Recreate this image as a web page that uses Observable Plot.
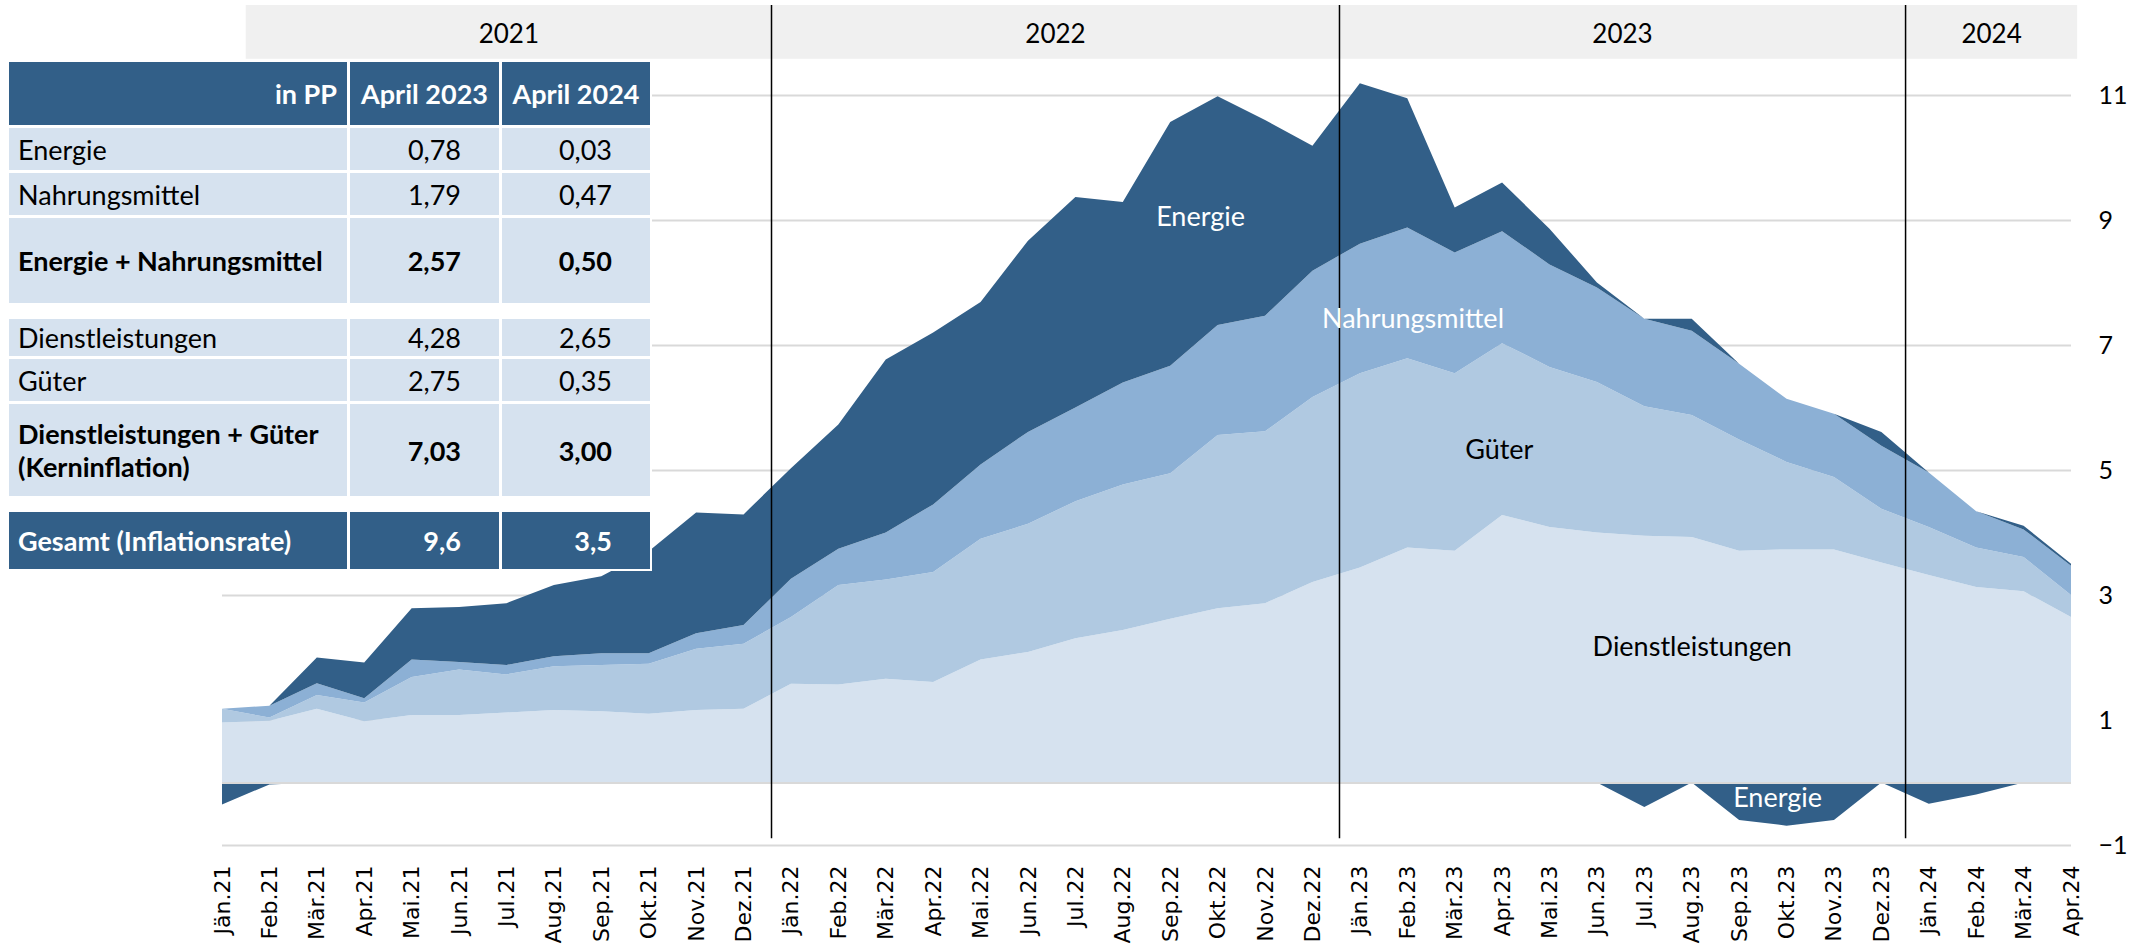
<!DOCTYPE html>
<html><head><meta charset="utf-8">
<script src="https://cdn.jsdelivr.net/npm/d3@7"></script>
<script src="https://cdn.jsdelivr.net/npm/@observablehq/plot@0.6"></script>
<style>
html,body{margin:0;padding:0;background:#fff;}
#wrap{position:relative;width:2136px;height:944px;overflow:hidden;}
#wrap svg{position:absolute;left:0;top:0;}
.cell{position:absolute;display:flex;align-items:center;box-sizing:border-box;font-family:Lato,"Open Sans",sans-serif;font-size:27px;color:#000;line-height:33px;white-space:pre-line;background:#d6e2ef;}
.dark{background:#325f88;color:#fff;font-weight:700;}
.bold{font-weight:700;}
</style></head><body><div id="wrap"></div>
<script>
// ---- data ----
const months = ["Jän.21","Feb.21","Mär.21","Apr.21","Mai.21","Jun.21","Jul.21","Aug.21","Sep.21","Okt.21","Nov.21","Dez.21",
  "Jän.22","Feb.22","Mär.22","Apr.22","Mai.22","Jun.22","Jul.22","Aug.22","Sep.22","Okt.22","Nov.22","Dez.22",
  "Jän.23","Feb.23","Mär.23","Apr.23","Mai.23","Jun.23","Jul.23","Aug.23","Sep.23","Okt.23","Nov.23","Dez.23",
  "Jän.24","Feb.24","Mär.24","Apr.24"];
const dienstleistungen = [0.96,0.99,1.18,0.98,1.08,1.08,1.12,1.16,1.14,1.10,1.16,1.18,
  1.58,1.57,1.66,1.61,1.97,2.09,2.31,2.44,2.62,2.79,2.87,3.21,
  3.44,3.76,3.71,4.28,4.09,4.00,3.95,3.93,3.71,3.73,3.73,3.52,
  3.32,3.13,3.06,2.65];
const gueter = [0.22,0.05,0.22,0.30,0.61,0.73,0.61,0.70,0.74,0.80,0.98,1.04,
  1.07,1.59,1.59,1.76,1.93,2.05,2.19,2.33,2.33,2.77,2.75,2.96,
  3.11,3.03,2.84,2.75,2.56,2.41,2.07,1.95,1.78,1.40,1.16,0.86,
  0.77,0.63,0.55,0.35];
const nahrungsmittel = [0.00,0.19,0.19,0.07,0.28,0.12,0.15,0.16,0.19,0.17,0.25,0.30,
  0.61,0.58,0.75,1.08,1.19,1.47,1.50,1.63,1.72,1.76,1.85,2.02,
  2.07,2.09,1.93,1.79,1.64,1.51,1.40,1.35,1.21,1.01,1.01,1.01,
  0.87,0.58,0.44,0.47];
const energie = [-0.35,-0.03,0.41,0.57,0.82,0.88,0.99,1.14,1.23,1.63,1.93,1.77,
  1.77,1.99,2.77,2.75,2.60,3.06,3.37,2.89,3.90,3.66,3.13,2.00,
  2.57,2.07,0.72,0.78,0.57,0.08,-0.39,0.19,-0.60,-0.69,-0.60,0.22,
  -0.34,-0.19,0.06,0.03];
const yTicks = [-1,1,3,5,7,9,11];
const years = ["2021","2022","2023","2024"];
const yearStart = [0.5,11.58,23.56,35.5];
const yearEnd = [11.58,23.56,35.5,39.13];
const yearDividers = [11.58,23.56,35.5];
const seriesNames = ["Dienstleistungen","Güter","Nahrungsmittel","Energie"];
const seriesColors = ["#d6e2ef","#b0c9e1","#8cb0d5","#325f88"];
const labelText = ["Energie","Nahrungsmittel","Güter","Dienstleistungen","Energie"];
const labelX = [20.63,25.11,26.93,31.0,32.8];
const labelY = [9.05,7.42,5.32,2.17,-0.24];
const labelFill = ["#fff","#fff","#000","#000","#fff"];
const tableHeader = ["in PP","April 2023","April 2024"];
const tableLabels = ["Energie","Nahrungsmittel","Energie + Nahrungsmittel","Dienstleistungen","Güter","Dienstleistungen + Güter\n(Kerninflation)","Gesamt (Inflationsrate)"];
const tableApr23 = ["0,78","1,79","2,57","4,28","2,75","7,03","9,6"];
const tableApr24 = ["0,03","0,47","0,50","2,65","0,35","3,00","3,5"];
const tableBold = [false,false,true,false,false,true,true];

// ---- derived tables ----
const stacked = [];
months.forEach((m,i)=>{
  stacked.push({i, k:"Dienstleistungen", v:dienstleistungen[i]});
  stacked.push({i, k:"Güter", v:gueter[i]});
  stacked.push({i, k:"Nahrungsmittel", v:nahrungsmittel[i]});
  stacked.push({i, k:"Energie", v:Math.max(0, energie[i])});
});
const energyNeg = months.map((m,i)=>({i, v:Math.min(0, energie[i])}));
const yearBands = years.map((y,j)=>({y, x1:yearStart[j], x2:yearEnd[j], xm:(yearStart[j]+yearEnd[j])/2}));
const areaLabels = labelText.map((t,j)=>({t, x:labelX[j], y:labelY[j], f:labelFill[j]}));

const FONT = "Lato, 'Open Sans', sans-serif";
const chart = Plot.plot({
  width:2136, height:944,
  marginLeft:222, marginRight:65, marginTop:95, marginBottom:99,
  x:{type:"linear", domain:[0,39]},
  y:{domain:[-1,11]},
  color:{domain:seriesNames, range:seriesColors},
  style:{fontFamily:FONT, fontSize:"25px", background:"#fff", color:"#000"},
  marks:[
    Plot.rect(yearBands, {x1:"x1", x2:"x2", y1:11.58, y2:12.44, fill:"#f0f0f0"}),
    Plot.gridY(yTicks, {stroke:"#d9d9d9", strokeOpacity:1, strokeWidth:2}),
    Plot.areaY(stacked, {x:"i", y:"v", fill:"k", order:seriesNames}),
    Plot.areaY(energyNeg, {x:"i", y1:0, y2:"v", fill:seriesColors[3]}),
    Plot.ruleY([0], {stroke:"#d9d9d9", strokeWidth:2}),
    Plot.ruleX(yearDividers, {y1:-0.89, y2:12.44, stroke:"#000", strokeWidth:1.5}),
    Plot.text(yearBands, {x:"xm", y:11.98, text:"y", fontSize:26, fontFamily:FONT, fill:"#000"}),
    Plot.text(areaLabels, {x:"x", y:"y", text:"t", fill:"f", fontSize:27, fontFamily:FONT}),
    Plot.axisX({ticks:d3.range(40), tickFormat:i=>months[i], tickRotate:-90, tickSize:0, tickPadding:20,
      fontSize:22, fontFamily:"DejaVu Sans", label:null, color:"#000"}),
    Plot.axisY({anchor:"right", ticks:yTicks, tickSize:0, tickPadding:27, fontSize:25, fontFamily:FONT, label:null, color:"#000"})
  ]
});
const wrap = document.getElementById("wrap");
wrap.appendChild(chart);

// ---- table overlay ----
const colLeft = [9,350,502], colWidth = [338,149,148];
const rowTop = [62,128,173,218,319,359,404,512], rowHeight = [63,42,42,85,37,42,92,57];
function cell(r, c, text, cls, align){
  const d = document.createElement("div");
  d.className = "cell " + cls;
  d.style.left = colLeft[c]+"px"; d.style.width = colWidth[c]+"px";
  d.style.top = rowTop[r]+"px"; d.style.height = rowHeight[r]+"px";
  d.style.justifyContent = align;
  if (align === "flex-start") d.style.paddingLeft = "9px";
  if (align === "flex-end") d.style.paddingRight = (c===0 ? 10 : 38)+"px";
  d.textContent = text;
  wrap.appendChild(d);
}
const bg = document.createElement("div");
bg.style.cssText = "position:absolute;left:0;top:60px;width:652px;height:511px;background:#fff;";
wrap.appendChild(bg);
cell(0,0,tableHeader[0],"dark","flex-end");
cell(0,1,tableHeader[1],"dark","center");
cell(0,2,tableHeader[2],"dark","center");
tableLabels.forEach((t,j)=>{
  const last = j === tableLabels.length-1;
  const cls = last ? "dark" : (tableBold[j] ? "bold" : "");
  cell(j+1,0,t,cls,"flex-start");
  cell(j+1,1,tableApr23[j],cls,"flex-end");
  cell(j+1,2,tableApr24[j],cls,"flex-end");
});
</script></body></html>
